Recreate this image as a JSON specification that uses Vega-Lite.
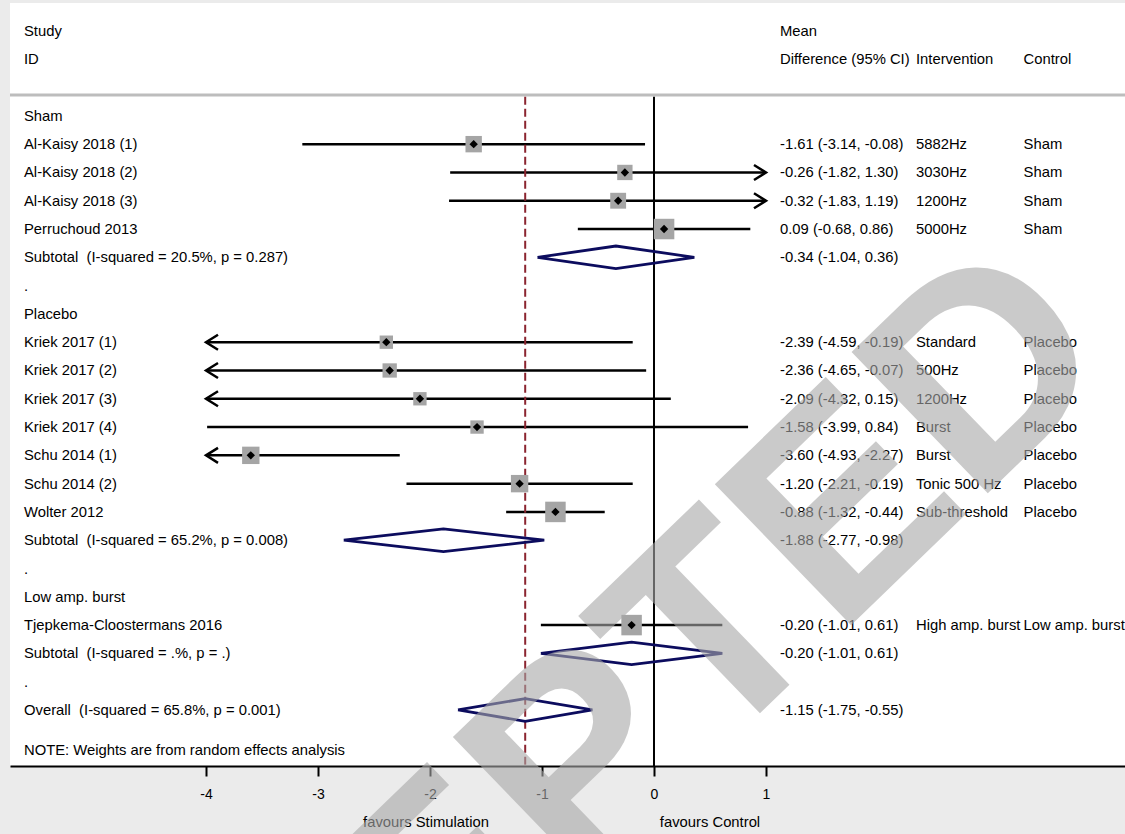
{
  "$schema": "https://vega.github.io/schema/vega-lite/v6.json",
  "width": 1115,
  "height": 763,
  "autosize": {"type": "none"},
  "padding": {"left": 10, "top": 3, "right": 0, "bottom": 68},
  "background": "#ebebeb",
  "config": {
    "view": {"fill": "white", "stroke": null},
    "font": "Liberation Sans",
    "text": {"font": "Liberation Sans", "fontSize": 14.8, "color": "black", "dy": 1}
  },
  "datasets": {
    "rows": [
      {"row": 0, "label": "Study", "ci": "Mean"},
      {"row": 1, "label": "ID", "ci": "Difference (95% CI)", "int": "Intervention", "ctl": "Control"},
      {"row": 3, "label": "Sham"},
      {"row": 4, "label": "Al-Kaisy 2018 (1)", "est": -1.61, "lo": -3.14, "hi": -0.08, "w": 8.0, "ci": "-1.61 (-3.14, -0.08)", "int": "5882Hz", "ctl": "Sham"},
      {"row": 5, "label": "Al-Kaisy 2018 (2)", "est": -0.26, "lo": -1.82, "hi": 1.30, "w": 7.0, "ci": "-0.26 (-1.82, 1.30)", "int": "3030Hz", "ctl": "Sham"},
      {"row": 6, "label": "Al-Kaisy 2018 (3)", "est": -0.32, "lo": -1.83, "hi": 1.19, "w": 7.5, "ci": "-0.32 (-1.83, 1.19)", "int": "1200Hz", "ctl": "Sham"},
      {"row": 7, "label": "Perruchoud 2013", "est": 0.09, "lo": -0.68, "hi": 0.86, "w": 12.5, "ci": "0.09 (-0.68, 0.86)", "int": "5000Hz", "ctl": "Sham"},
      {"row": 8, "label": "Subtotal\u00a0 (I-squared = 20.5%, p = 0.287)", "ci": "-0.34 (-1.04, 0.36)"},
      {"row": 9, "label": "."},
      {"row": 10, "label": "Placebo"},
      {"row": 11, "label": "Kriek 2017 (1)", "est": -2.39, "lo": -4.59, "hi": -0.19, "w": 5.3, "ci": "-2.39 (-4.59, -0.19)", "int": "Standard", "ctl": "Placebo"},
      {"row": 12, "label": "Kriek 2017 (2)", "est": -2.36, "lo": -4.65, "hi": -0.07, "w": 6.1, "ci": "-2.36 (-4.65, -0.07)", "int": "500Hz", "ctl": "Placebo"},
      {"row": 13, "label": "Kriek 2017 (3)", "est": -2.09, "lo": -4.32, "hi": 0.15, "w": 5.3, "ci": "-2.09 (-4.32, 0.15)", "int": "1200Hz", "ctl": "Placebo"},
      {"row": 14, "label": "Kriek 2017 (4)", "est": -1.58, "lo": -3.99, "hi": 0.84, "w": 5.3, "ci": "-1.58 (-3.99, 0.84)", "int": "Burst", "ctl": "Placebo"},
      {"row": 15, "label": "Schu 2014 (1)", "est": -3.60, "lo": -4.93, "hi": -2.27, "w": 9.0, "ci": "-3.60 (-4.93, -2.27)", "int": "Burst", "ctl": "Placebo"},
      {"row": 16, "label": "Schu 2014 (2)", "est": -1.20, "lo": -2.21, "hi": -0.19, "w": 9.0, "ci": "-1.20 (-2.21, -0.19)", "int": "Tonic 500 Hz", "ctl": "Placebo"},
      {"row": 17, "label": "Wolter 2012", "est": -0.88, "lo": -1.32, "hi": -0.44, "w": 12.5, "ci": "-0.88 (-1.32, -0.44)", "int": "Sub-threshold", "ctl": "Placebo"},
      {"row": 18, "label": "Subtotal\u00a0 (I-squared = 65.2%, p = 0.008)", "ci": "-1.88 (-2.77, -0.98)"},
      {"row": 19, "label": "."},
      {"row": 20, "label": "Low amp. burst"},
      {"row": 21, "label": "Tjepkema-Cloostermans 2016", "est": -0.20, "lo": -1.01, "hi": 0.61, "w": 12.5, "ci": "-0.20 (-1.01, 0.61)", "int": "High amp. burst", "ctl": "Low amp. burst"},
      {"row": 22, "label": "Subtotal\u00a0 (I-squared = .%, p = .)", "ci": "-0.20 (-1.01, 0.61)"},
      {"row": 23, "label": "."},
      {"row": 24, "label": "Overall\u00a0 (I-squared = 65.8%, p = 0.001)", "ci": "-1.15 (-1.75, -0.55)"},
      {"row": 25.41, "label": "NOTE: Weights are from random effects analysis"}
    ],
    "diamonds": [
      {"g": "Sham", "k": 0, "x": -1.04, "y": 8}, {"g": "Sham", "k": 1, "x": -0.34, "y": 7.6}, {"g": "Sham", "k": 2, "x": 0.36, "y": 8}, {"g": "Sham", "k": 3, "x": -0.34, "y": 8.4}, {"g": "Sham", "k": 4, "x": -1.04, "y": 8},
      {"g": "Placebo", "k": 0, "x": -2.77, "y": 18}, {"g": "Placebo", "k": 1, "x": -1.88, "y": 17.6}, {"g": "Placebo", "k": 2, "x": -0.98, "y": 18}, {"g": "Placebo", "k": 3, "x": -1.88, "y": 18.4}, {"g": "Placebo", "k": 4, "x": -2.77, "y": 18},
      {"g": "Low", "k": 0, "x": -1.01, "y": 22}, {"g": "Low", "k": 1, "x": -0.20, "y": 21.6}, {"g": "Low", "k": 2, "x": 0.61, "y": 22}, {"g": "Low", "k": 3, "x": -0.20, "y": 22.4}, {"g": "Low", "k": 4, "x": -1.01, "y": 22},
      {"g": "Overall", "k": 0, "x": -1.75, "y": 24}, {"g": "Overall", "k": 1, "x": -1.15, "y": 23.6}, {"g": "Overall", "k": 2, "x": -0.55, "y": 24}, {"g": "Overall", "k": 3, "x": -1.15, "y": 24.4}, {"g": "Overall", "k": 4, "x": -1.75, "y": 24}
    ],
    "one": [{"t": "ACCEPTED"}]
  },
  "layer": [
    {
      "data": {"name": "one"},
      "mark": {"type": "rule", "color": "#bdbdbd", "strokeWidth": 3},
      "encoding": {
        "y": {"datum": 2.26, "type": "quantitative", "scale": {"domain": [-0.9898, 25.981], "reverse": true, "nice": false, "zero": false}, "axis": null}
      }
    },
    {
      "data": {"name": "rows"},
      "transform": [
        {"filter": "isValid(datum.est)"},
        {"calculate": "max(datum.lo, -4)", "as": "x0"},
        {"calculate": "min(datum.hi, 1)", "as": "x1"}
      ],
      "mark": {"type": "rule", "color": "black", "strokeWidth": 2.5},
      "encoding": {
        "x": {"field": "x0", "type": "quantitative", "title": null, "scale": {"domain": [-5.75, 4.2054], "nice": false, "zero": false},
          "axis": {"values": [-4, -3, -2, -1, 0, 1], "labelExpr": "datum.value + ''", "domainColor": "black", "domainWidth": 2, "tickColor": "black", "tickWidth": 2, "tickSize": 10, "labelFontSize": 14, "labelColor": "black", "labelPadding": 11, "labelFont": "Liberation Sans", "grid": false, "title": null}},
        "x2": {"field": "x1"},
        "y": {"field": "row", "type": "quantitative", "scale": {"domain": [-0.9898, 25.981], "reverse": true, "nice": false, "zero": false}, "axis": null}
      }
    },
    {
      "data": {"name": "one"},
      "mark": {"type": "rule", "color": "black", "strokeWidth": 2},
      "encoding": {
        "x": {"datum": 0, "type": "quantitative", "title": null},
        "y": {"datum": 2.32, "type": "quantitative", "axis": null},
        "y2": {"datum": 25.98}
      }
    },
    {
      "data": {"name": "one"},
      "mark": {"type": "rule", "color": "#8b2530", "strokeWidth": 2, "strokeDash": [8, 4]},
      "encoding": {
        "x": {"datum": -1.15, "type": "quantitative", "title": null},
        "y": {"datum": 2.32, "type": "quantitative", "axis": null},
        "y2": {"datum": 25.98}
      }
    },
    {
      "data": {"name": "rows"},
      "transform": [{"filter": "isValid(datum.lo) && datum.lo < -4"}],
      "mark": {"type": "point", "shape": "M1.6,-1L0,0L1.6,1", "filled": false, "stroke": "black", "strokeWidth": 2.5, "size": 225, "opacity": 1},
      "encoding": {
        "x": {"datum": -4, "type": "quantitative", "title": null},
        "y": {"field": "row", "type": "quantitative", "axis": null}
      }
    },
    {
      "data": {"name": "rows"},
      "transform": [{"filter": "isValid(datum.hi) && datum.hi > 1"}],
      "mark": {"type": "point", "shape": "M-1.6,-1L0,0L-1.6,1", "filled": false, "stroke": "black", "strokeWidth": 2.5, "size": 225, "opacity": 1},
      "encoding": {
        "x": {"datum": 1, "type": "quantitative", "title": null},
        "y": {"field": "row", "type": "quantitative", "axis": null}
      }
    },
    {
      "data": {"name": "rows"},
      "transform": [{"filter": "isValid(datum.est)"}],
      "mark": {"type": "point", "shape": "square", "filled": true, "color": "#a5a5a5", "opacity": 1},
      "encoding": {
        "x": {"field": "est", "type": "quantitative", "title": null},
        "y": {"field": "row", "type": "quantitative", "axis": null},
        "size": {"field": "w", "type": "quantitative", "scale": {"type": "linear", "domain": [0, 12.5], "range": [0, 420]}, "legend": null}
      }
    },
    {
      "data": {"name": "rows"},
      "transform": [{"filter": "isValid(datum.est)"}],
      "mark": {"type": "point", "shape": "diamond", "filled": true, "color": "black", "opacity": 1, "size": 70},
      "encoding": {
        "x": {"field": "est", "type": "quantitative", "title": null},
        "y": {"field": "row", "type": "quantitative", "axis": null}
      }
    },
    {
      "data": {"name": "diamonds"},
      "mark": {"type": "line", "color": "#0c0c5e", "strokeWidth": 2.8, "strokeJoin": "miter"},
      "encoding": {
        "x": {"field": "x", "type": "quantitative", "title": null},
        "y": {"field": "y", "type": "quantitative", "axis": null},
        "detail": {"field": "g", "type": "nominal"},
        "order": {"field": "k", "type": "quantitative"}
      }
    },
    {
      "data": {"name": "rows"},
      "mark": {"type": "text", "align": "left", "baseline": "middle"},
      "encoding": {
        "x": {"datum": -5.625, "type": "quantitative", "title": null},
        "y": {"field": "row", "type": "quantitative", "axis": null},
        "text": {"field": "label", "type": "nominal"}
      }
    },
    {
      "data": {"name": "rows"},
      "transform": [{"filter": "isValid(datum.ci)"}],
      "mark": {"type": "text", "align": "left", "baseline": "middle"},
      "encoding": {
        "x": {"datum": 1.125, "type": "quantitative", "title": null},
        "y": {"field": "row", "type": "quantitative", "axis": null},
        "text": {"field": "ci", "type": "nominal"}
      }
    },
    {
      "data": {"name": "rows"},
      "transform": [{"filter": "isValid(datum.int)"}],
      "mark": {"type": "text", "align": "left", "baseline": "middle"},
      "encoding": {
        "x": {"datum": 2.339, "type": "quantitative", "title": null},
        "y": {"field": "row", "type": "quantitative", "axis": null},
        "text": {"field": "int", "type": "nominal"}
      }
    },
    {
      "data": {"name": "rows"},
      "transform": [{"filter": "isValid(datum.ctl)"}],
      "mark": {"type": "text", "align": "left", "baseline": "middle"},
      "encoding": {
        "x": {"datum": 3.3, "type": "quantitative", "title": null},
        "y": {"field": "row", "type": "quantitative", "axis": null},
        "text": {"field": "ctl", "type": "nominal"}
      }
    },
    {
      "data": {"values": [{"t": "favours Stimulation", "x": -2.036}, {"t": "favours Control", "x": 0.5}]},
      "mark": {"type": "text", "align": "center", "baseline": "middle"},
      "encoding": {
        "x": {"field": "x", "type": "quantitative", "title": null},
        "y": {"datum": 27.96, "type": "quantitative", "axis": null},
        "text": {"field": "t", "type": "nominal"}
      }
    },
    {
      "data": {"name": "one"},
      "mark": {"type": "text", "align": "center", "baseline": "middle", "fontSize": 285, "fontWeight": "bold", "font": "Liberation Sans", "angle": -44, "dy": 0, "color": "#a8a8a8", "opacity": 0.6},
      "encoding": {
        "x": {"datum": -1.388, "type": "quantitative", "title": null},
        "y": {"datum": 28.81, "type": "quantitative", "axis": null},
        "text": {"field": "t", "type": "nominal"}
      }
    }
  ]
}
